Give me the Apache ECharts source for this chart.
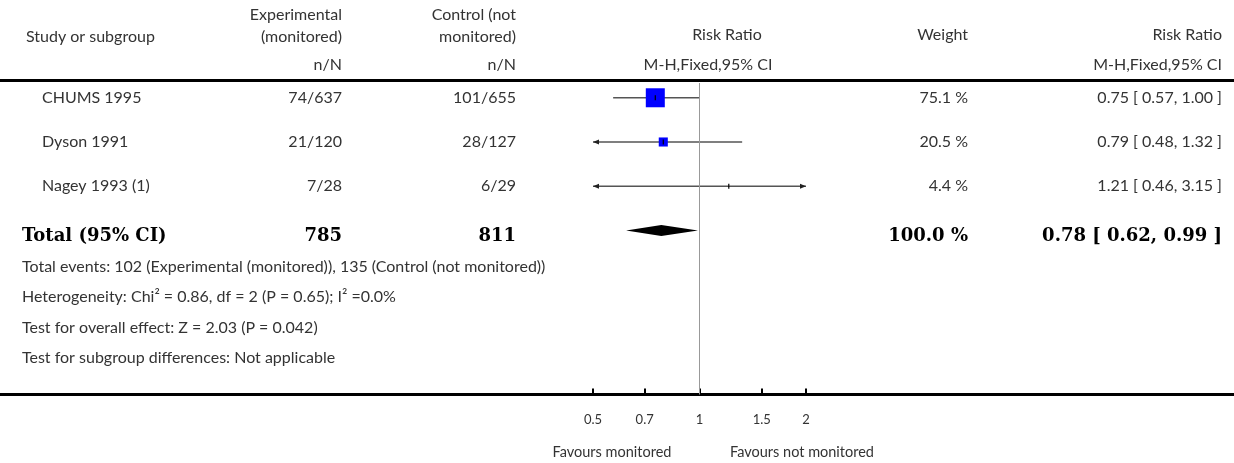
<!DOCTYPE html>
<html>
<head>
<meta charset="utf-8">
<script src="https://cdn.jsdelivr.net/npm/echarts@6/dist/echarts.min.js"></script>
<style>
html,body{margin:0;padding:0;background:#fff;}
#chart{width:1234px;height:463px;}
</style>
</head>
<body>
<div id="chart"></div>
<script>
// ---- data ----
const studies = ['CHUMS 1995', 'Dyson 1991', 'Nagey 1993 (1)'];
const expEvents = [74, 21, 7];
const expTotal = [637, 120, 28];
const ctrlEvents = [101, 28, 6];
const ctrlTotal = [655, 127, 29];
const weights = [75.1, 20.5, 4.4];
const rr = [0.75, 0.79, 1.21];
const rrLow = [0.57, 0.48, 0.46];
const rrHigh = [1.00, 1.32, 3.15];
const totalExp = 785;
const totalCtrl = 811;
const totalWeight = 100.0;
const totalRR = [0.78, 0.62, 0.99];
const xTicks = [0.5, 0.7, 1, 1.5, 2];
const footnotes = [
  'Total events: 102 (Experimental (monitored)), 135 (Control (not monitored))',
  'Heterogeneity: Chi\u00B2 = 0.86, df = 2 (P = 0.65); I\u00B2 =0.0%',
  'Test for overall effect: Z = 2.03 (P = 0.042)',
  'Test for subgroup differences: Not applicable'
];

// ---- layout ----
const X_MIN = 0.5, X_MAX = 2;
const FONT = 'Lato, "Open Sans", sans-serif';
const TXT = '#333';
const reg = (s) => s + 'px ' + FONT;
const FS = 16;
const boldSerif = 'bold 18px "DejaVu Serif", "Liberation Serif", serif';

const chart = echarts.init(document.getElementById('chart'), null, {renderer: 'canvas'});

const studyData = studies.map((s, i) => [i, rr[i], rrLow[i], rrHigh[i], weights[i]]);
const wMax = Math.max(...weights), wMin = Math.min(...weights);
const MAX_BOX = 19;

function arrow(x, y, dir) {
  return {
    type: 'polygon',
    shape: {points: [[x, y], [x - dir * 6, y - 2.5], [x - dir * 6, y + 2.5]]},
    style: {fill: '#222'}
  };
}

function renderStudy(params, api) {
  const row = api.value(0);
  const est = api.value(1), lo = api.value(2), hi = api.value(3), w = api.value(4);
  const y = api.coord([1, row])[1];
  const xl = api.coord([Math.max(lo, X_MIN), row])[0];
  const xh = api.coord([Math.min(hi, X_MAX), row])[0];
  const xe = api.coord([est, row])[0];
  const children = [];
  children.push({type: 'line', shape: {x1: xl, y1: y, x2: xh, y2: y},
    style: {stroke: '#555', lineWidth: 1.6}});
  if (lo < X_MIN) children.push(arrow(xl, y, -1));
  if (hi > X_MAX) children.push(arrow(xh, y, 1));
  const size = MAX_BOX * Math.sqrt(Math.max(0, w - wMin) / (wMax - wMin));
  if (size > 0) {
    children.push({type: 'rect', shape: {x: xe - size / 2, y: y - size / 2, width: size, height: size},
      style: {fill: '#0000ff'}});
  }
  children.push({type: 'line', shape: {x1: xe, y1: y - 2.5, x2: xe, y2: y + 2.5},
    style: {stroke: '#000', lineWidth: 1.2}});
  return {type: 'group', children};
}

function renderDiamond(params, api) {
  const row = api.value(0);
  const est = api.value(1), lo = api.value(2), hi = api.value(3);
  const p = api.coord([est, row]);
  const xl = api.coord([lo, row])[0];
  const xh = api.coord([hi, row])[0];
  const h = 5.5;
  return {
    type: 'polygon',
    shape: {points: [[xl, p[1]], [p[0], p[1] - h], [xh, p[1]], [p[0], p[1] + h]]},
    style: {fill: '#000'}
  };
}

const option = {
  animation: false,
  grid: {left: 593, right: 428, top: 83, bottom: 68.5, containLabel: false},
  xAxis: {
    type: 'log', logBase: 10, min: X_MIN, max: X_MAX, position: 'bottom',
    axisLine: {show: false, onZero: false},
    splitLine: {show: false},
    axisTick: {show: true, inside: true, length: 6, lineStyle: {color: '#000', width: 2}, customValues: xTicks},
    axisLabel: {show: true, margin: 19, color: TXT, fontSize: 13, fontFamily: FONT,
      customValues: xTicks, formatter: (v) => String(+v.toFixed(2))}
  },
  yAxis: {
    type: 'value', inverse: true, min: -0.334, max: 6.71, show: false
  },
  series: [
    {
      type: 'custom', name: 'studies', renderItem: renderStudy, clip: false,
      encode: {x: [1, 2, 3], y: 0}, data: studyData, silent: true
    },
    {
      type: 'custom', name: 'total', renderItem: renderDiamond, clip: false,
      encode: {x: [1, 2, 3], y: 0}, data: [[studies.length, totalRR[0], totalRR[1], totalRR[2]]],
      silent: true,
      markLine: {
        silent: true, symbol: 'none', label: {show: false},
        lineStyle: {color: '#999', width: 1, type: 'solid'},
        data: [{xAxis: 1}]
      }
    }
  ]
};

chart.setOption(option);

// ---- table text (positioned from the chart's row scale) ----
const rowY = (i) => chart.convertToPixel({yAxisIndex: 0}, i);
const fmt2 = (v) => v.toFixed(2);
const COL = {study: 42, exp: 342, ctrl: 516, weight: 968, rr: 1222, head: 26, foot: 22};

const g = [];
function txt(text, x, y, align, font, color) {
  g.push({type: 'text', silent: true, style: {text, x, y, align: align, verticalAlign: 'middle',
    font: font, fill: color || TXT}});
}
// header rule and bottom axis rule (full width)
g.push({type: 'rect', silent: true, shape: {x: 0, y: 79, width: 1234, height: 3}, style: {fill: '#000'}});
g.push({type: 'rect', silent: true, shape: {x: 0, y: 393, width: 1234, height: 3}, style: {fill: '#000'}});

// headers
txt('Study or subgroup', COL.head, 37, 'left', reg(FS));
txt('Experimental', COL.exp, 15, 'right', reg(FS));
txt('(monitored)', COL.exp, 37, 'right', reg(FS));
txt('n/N', COL.exp, 65, 'right', reg(FS));
txt('Control (not', COL.ctrl, 15, 'right', reg(FS));
txt('monitored)', COL.ctrl, 37, 'right', reg(FS));
txt('n/N', COL.ctrl, 65, 'right', reg(FS));
txt('Risk Ratio', 727, 35, 'center', reg(FS));
txt('M-H,Fixed,95% CI', 708, 65, 'center', reg(FS));
txt('Weight', COL.weight, 35, 'right', reg(FS));
txt('Risk Ratio', COL.rr, 35, 'right', reg(FS));
txt('M-H,Fixed,95% CI', COL.rr, 65, 'right', reg(FS));

// study rows
studies.forEach((s, i) => {
  const y = rowY(i);
  txt(s, COL.study, y, 'left', reg(FS));
  txt(expEvents[i] + '/' + expTotal[i], COL.exp, y, 'right', reg(FS));
  txt(ctrlEvents[i] + '/' + ctrlTotal[i], COL.ctrl, y, 'right', reg(FS));
  txt(weights[i].toFixed(1) + ' %', COL.weight, y, 'right', reg(FS));
  txt(fmt2(rr[i]) + ' [ ' + fmt2(rrLow[i]) + ', ' + fmt2(rrHigh[i]) + ' ]', COL.rr, y, 'right', reg(FS));
});

// total row
const ty = rowY(studies.length) + 6;
txt('Total (95% CI)', COL.foot, ty, 'left', boldSerif, '#000');
txt(String(totalExp), COL.exp, ty, 'right', boldSerif, '#000');
txt(String(totalCtrl), COL.ctrl, ty, 'right', boldSerif, '#000');
txt(totalWeight.toFixed(1) + ' %', COL.weight, ty, 'right', boldSerif, '#000');
txt(fmt2(totalRR[0]) + ' [ ' + fmt2(totalRR[1]) + ', ' + fmt2(totalRR[2]) + ' ]', COL.rr, ty, 'right', boldSerif, '#000');

// footnotes
footnotes.forEach((f, i) => txt(f, COL.foot, 267 + i * 30.3, 'left', reg(FS)));

// favours labels
txt('Favours monitored', 612, 452, 'center', reg(14.5));
txt('Favours not monitored', 802, 452, 'center', reg(14.5));

chart.setOption({graphic: {elements: g}});
</script>
</body>
</html>
